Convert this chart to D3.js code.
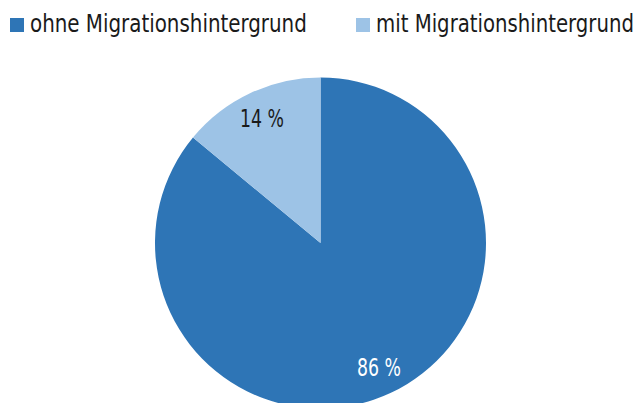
<!DOCTYPE html>
<html>
<head>
<meta charset="utf-8">
<script src="https://cdn.jsdelivr.net/npm/d3@7"></script>
<style>
  body { margin: 0; background: #fff; }
  svg { display: block; }
  text { font-family: "Liberation Sans Narrow", "DejaVu Sans Condensed", "Roboto", sans-serif; }
</style>
</head>
<body>
<div id="chart"></div>
<script>
// Anteile
const categories = ['ohne Migrationshintergrund', 'mit Migrationshintergrund'];
const values = [86, 14];
const labels = ['86 %', '14 %'];
const colors = ['#2e75b6', '#9dc3e6'];

const width = 640, height = 403;
const cx = 320.5, cy = 243, radius = 165.5;

const svg = d3.select('#chart').append('svg')
  .attr('width', width)
  .attr('height', height);

const data = categories.map((c, i) => ({ name: c, value: values[i], label: labels[i], color: colors[i] }));

const pie = d3.pie().value(d => d.value).sort(null);
const arc = d3.arc().innerRadius(0).outerRadius(radius);
const labelArc = d3.arc().innerRadius(radius * 0.83).outerRadius(radius * 0.83);

// squeeze a text to a target width (font in reference is narrower)
const fitWidth = (sel, w) => {
  sel.each(function (d, i) {
    const tw = typeof w === 'function' ? w(d, i) : w;
    const len = this.getComputedTextLength();
    const t = d3.select(this);
    const base = t.attr('transform') || '';
    t.attr('transform', base + ' scale(' + (tw / len) + ',1)');
  });
};

const g = svg.append('g').attr('transform', 'translate(' + cx + ',' + cy + ')');
const slices = g.selectAll('g.slice').data(pie(data)).enter().append('g').attr('class', 'slice');

slices.append('path')
  .attr('d', arc)
  .attr('fill', d => d.data.color);

slices.append('text')
  .attr('transform', d => 'translate(' + labelArc.centroid(d) + ')')
  .attr('text-anchor', 'middle')
  .attr('dy', '0.36em')
  .attr('font-size', 24)
  .attr('fill', (d, i) => i === 0 ? '#ffffff' : '#1a1a1a')
  .text(d => d.data.label)
  .call(fitWidth, 44);

// Legende
const legendX = [10, 356];
const legendTextW = [277, 258];
const legend = svg.selectAll('g.legend').data(data).enter().append('g')
  .attr('class', 'legend')
  .attr('transform', (d, i) => 'translate(' + legendX[i] + ',18)');

legend.append('rect')
  .attr('width', 14)
  .attr('height', 14)
  .attr('fill', d => d.color);

legend.append('text')
  .attr('transform', 'translate(20,14)')
  .attr('font-size', 24)
  .attr('fill', '#1a1a1a')
  .text(d => d.name)
  .call(fitWidth, (d, i) => legendTextW[i]);
</script>
</body>
</html>
